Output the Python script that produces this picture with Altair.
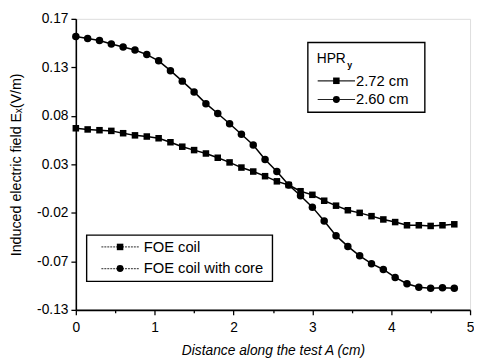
import altair as alt
import pandas as pd

# ---- data ----
distance = [0.0, 0.15, 0.3, 0.45, 0.6, 0.75, 0.9, 1.05, 1.2, 1.35, 1.5,
            1.65, 1.8, 1.95, 2.1, 2.25, 2.4, 2.55, 2.7, 2.85, 3.0,
            3.15, 3.3, 3.45, 3.6, 3.75, 3.9, 4.05, 4.2, 4.35, 4.5, 4.65, 4.8]
foe_coil = [0.0572, 0.0560, 0.0552, 0.0545, 0.0521, 0.0499, 0.0487, 0.0469,
            0.0428, 0.0382, 0.0347, 0.0312, 0.0268, 0.0220, 0.0167, 0.0126,
            0.0078, 0.0025, -0.0013, -0.0077, -0.0114, -0.0175, -0.0226,
            -0.0273, -0.0300, -0.0334, -0.0368, -0.0395, -0.0428, -0.0428,
            -0.0435, -0.0428, -0.0418]
foe_core = [0.1518, 0.1497, 0.1477, 0.1440, 0.1409, 0.1379, 0.1332, 0.1267,
            0.1166, 0.1058, 0.0947, 0.0826, 0.0724, 0.0619, 0.0511, 0.0400,
            0.0251, 0.0126, -0.0013, -0.0124, -0.0241, -0.0385, -0.0535,
            -0.0646, -0.0743, -0.0824, -0.0884, -0.0966, -0.1031, -0.1067,
            -0.1077, -0.1072, -0.1077]
series_names = ["FOE coil", "FOE coil with core"]

x_ticks = [0, 0.5, 1, 1.5, 2, 2.5, 3, 3.5, 4, 4.5, 5]
y_ticks = [-0.13, -0.105, -0.08, -0.055, -0.03, -0.005, 0.02, 0.045,
           0.07, 0.095, 0.12, 0.145, 0.17]
y_tick_labels = ["-0.13", "-0.07", "-0.02", "0.03", "0.08", "0.13", "0.17"]

legend1_title = "HPR"
legend1_sub = "y"
legend1_labels = ["2.72 cm", "2.60 cm"]
legend2_labels = ["FOE coil", "FOE coil with core"]

x_title = "Distance along the test A (cm)"
y_title = "Induced electric field E\u2093(V/m)"

FONT = "Liberation Sans"

df = pd.DataFrame({
    "x": distance * 2,
    "y": foe_coil + foe_core,
    "series": [series_names[0]] * len(distance) + [series_names[1]] * len(distance),
})

label_arr = "[" + ",".join("'%s'" % s for s in y_tick_labels) + "]"
y_major = "abs((datum.value+0.13)/0.05 - round((datum.value+0.13)/0.05)) < 0.01"
y_label_expr = "(" + y_major + ") ? " + label_arr + "[round((datum.value+0.13)/0.05)] : ''"
x_major = "abs(datum.value - round(datum.value)) < 0.01"
x_label_expr = "(" + x_major + ") ? format(datum.value, 'd') : ''"

x_enc = alt.X("x:Q",
              scale=alt.Scale(domain=[0, 5], nice=False, zero=False),
              axis=alt.Axis(values=x_ticks, labelExpr=x_label_expr, title=x_title,
                            grid=False, domainColor="black", domainWidth=1.6,
                            tickColor="black", tickWidth=1.3,
                            tickSize={"condition": {"test": x_major, "value": 5}, "value": 3},
                            labelFont=FONT, labelFontSize=14, labelColor="black",
                            labelPadding=6, labelFlush=False,
                            titleFont=FONT, titleFontSize=14, titleFontStyle="italic",
                            titleFontWeight="normal", titleColor="black", titlePadding=9))
y_enc = alt.Y("y:Q",
              scale=alt.Scale(domain=[-0.13, 0.17], nice=False, zero=False),
              axis=alt.Axis(values=y_ticks, labelExpr=y_label_expr, title=y_title,
                            grid=False, domainColor="black", domainWidth=1.6,
                            tickColor="black", tickWidth=1.3,
                            tickSize={"condition": {"test": y_major, "value": 5}, "value": 3},
                            labelFont=FONT, labelFontSize=14, labelColor="black",
                            labelPadding=3, labelFlush=False,
                            titleFont=FONT, titleFontSize=14.5, titleFontWeight="normal",
                            titleColor="black", titlePadding=13))

base = alt.Chart(df)
lines = base.mark_line(color="black", strokeWidth=1.5).encode(x=x_enc, y=y_enc, detail="series:N")
points = base.mark_point(filled=True, color="black", opacity=1).encode(
    x="x:Q", y="y:Q",
    shape=alt.Shape("series:N", scale=alt.Scale(domain=series_names, range=["square", "circle"]), legend=None),
    size=alt.Size("series:N", scale=alt.Scale(domain=series_names, range=[44, 58]), legend=None),
)

one = pd.DataFrame({"a": [0]})


def box(x1, x2, y1, y2):
    return alt.Chart(one).mark_rect(fill="white", stroke="black", strokeWidth=1.4).encode(
        x=alt.value(x1), x2=alt.value(x2), y=alt.value(y1), y2=alt.value(y2))


def entry(xl, xm, xr, xt, yy, shape, label, line_color, dash, size=15):
    ln = alt.Chart(one).mark_rule(color=line_color, strokeWidth=1.2, strokeDash=dash).encode(
        x=alt.value(xl), x2=alt.value(xr), y=alt.value(yy))
    mk = alt.Chart(one).mark_point(filled=True, color="black", opacity=1).encode(
        x=alt.value(xm), y=alt.value(yy), shape=alt.value(shape),
        size=alt.value(44 if shape == "square" else 50))
    tx = alt.Chart(one).mark_text(align="left", baseline="middle", font=FONT, fontSize=size,
                                  color="black").encode(
        x=alt.value(xt), y=alt.value(yy), text=alt.value(label))
    return [ln, mk, tx]


layers = [lines, points]
# legend 1 (top right)
layers.append(box(236, 355, 24, 95))
layers.append(alt.Chart(one).mark_text(align="left", baseline="middle", font=FONT, fontSize=14,
                                       color="black").encode(
    x=alt.value(245), y=alt.value(41), text=alt.value(legend1_title)))
layers.append(alt.Chart(one).mark_text(align="left", baseline="middle", font=FONT, fontSize=9,
                                       fontWeight="bold", color="black").encode(
    x=alt.value(276), y=alt.value(47), text=alt.value(legend1_sub)))
layers += entry(246, 265, 284, 285, 63, "square", legend1_labels[0], "#222222", [1, 0])
layers += entry(246, 265, 284, 285, 82, "circle", legend1_labels[1], "#222222", [1, 0])
# legend 2 (bottom left)
layers.append(box(11, 200, 220, 267))
layers += entry(26, 45, 65, 69, 232, "square", legend2_labels[0], "#555555", [2, 1])
layers += entry(26, 45, 65, 69, 254, "circle", legend2_labels[1], "#555555", [2, 1])

chart = alt.layer(*layers).properties(
    width=401, height=296,
    autosize=alt.AutoSizeParams(type="none"),
    padding={"left": 69, "top": 8, "right": 4, "bottom": 50},
).configure_view(stroke=None).configure(background="white")

chart.save("out.html", embed_options={"renderer": "svg", "actions": False})
